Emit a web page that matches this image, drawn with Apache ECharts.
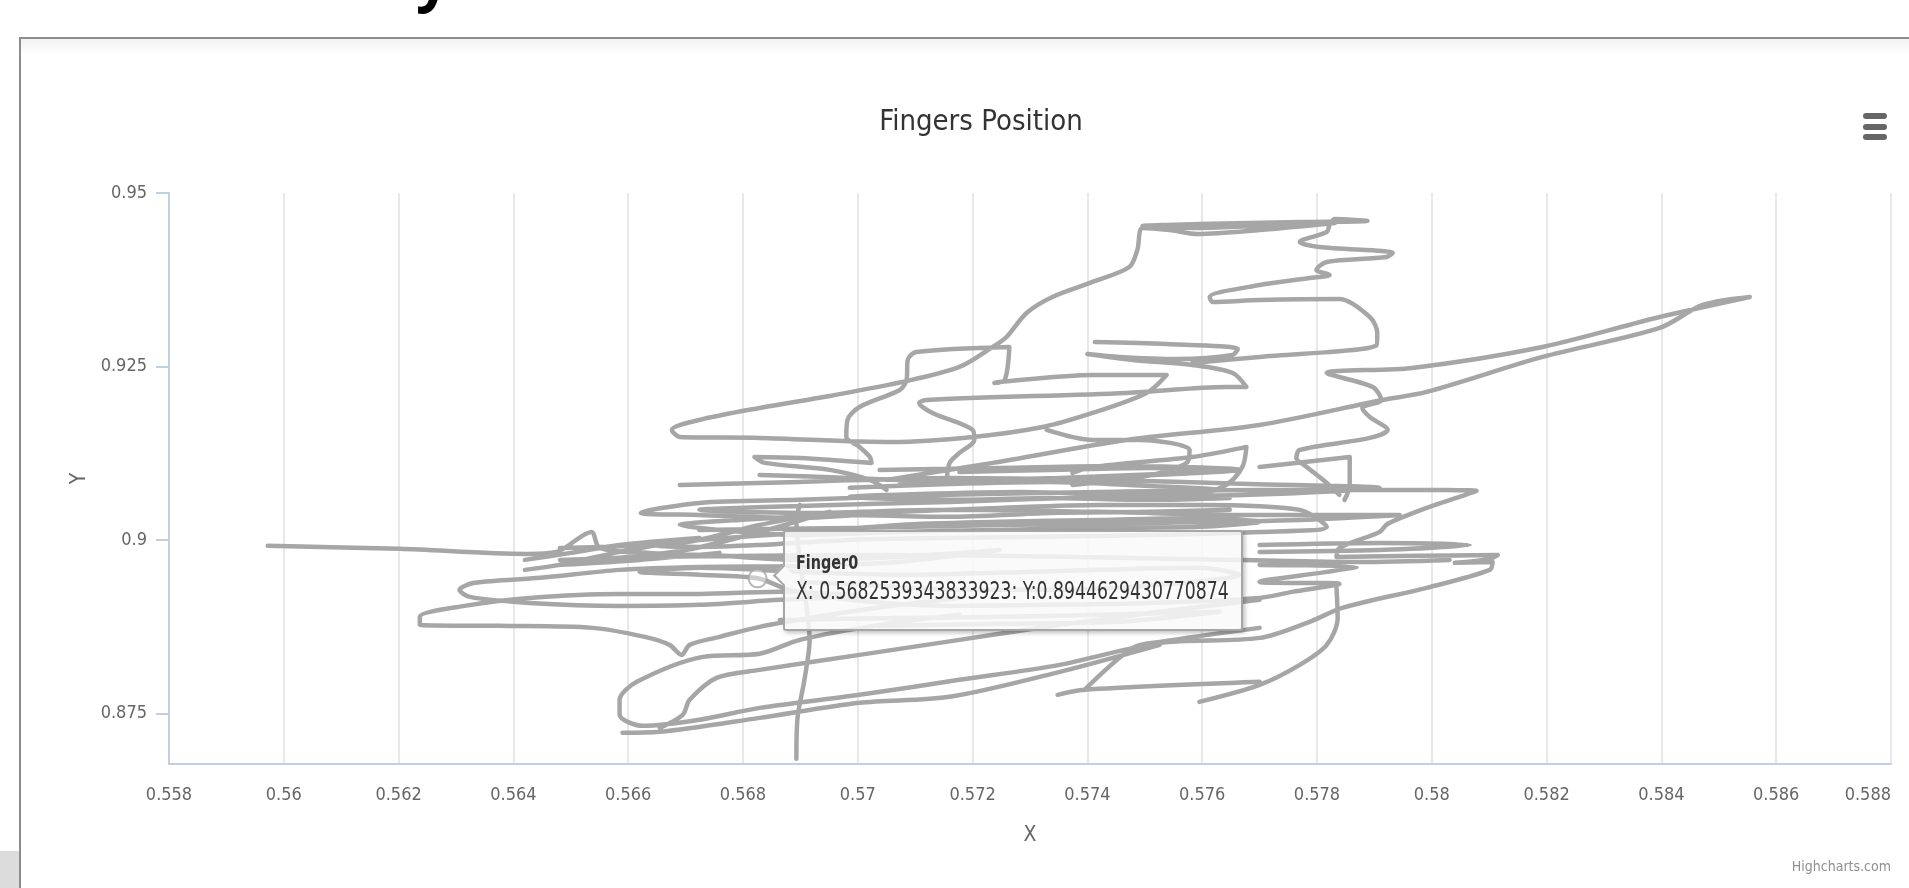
<!DOCTYPE html>
<html>
<head>
<meta charset="utf-8">
<script src="https://cdn.jsdelivr.net/npm/echarts@6/dist/echarts.min.js"></script>
<style>
html,body{margin:0;padding:0;background:#fff;width:1909px;height:888px;overflow:hidden;}
#heading{position:absolute;left:416px;top:-54px;font:bold 60px 'Open Sans',sans-serif;color:#000;line-height:60px;}
#frame{position:absolute;left:19px;top:37px;width:2000px;height:1000px;border-top:2px solid #8c8c8c;border-left:2px solid #8c8c8c;}
#band{position:absolute;left:21px;top:39px;width:1888px;height:14px;background:linear-gradient(#f2f2f2,#fdfdfd);}
#corner{position:absolute;left:0;top:851px;width:19px;height:37px;background:#dcdcdc;}
#chart{position:absolute;left:0;top:0;width:1909px;height:888px;}
</style>
</head>
<body>
<div id="heading">y</div>
<div id="frame"></div>
<div id="band"></div>
<div id="corner"></div>
<div id="chart"></div>
<script>
// ---------- data ----------
const chartTitle = 'Fingers Position';
const seriesName = 'Finger0';
const xTickMin = 0.558, xTickMax = 0.588, xTickStep = 0.002;
const yAxisMin = 0.8677, yAxisMax = 0.95;
const yTicks = [0.875, 0.9, 0.925, 0.95];
const hoverX = 0.5682539343833923, hoverY = 0.8944629430770874;

const leftLoops = [[0.55972,0.89914],[0.56202,0.89871],[0.56423,0.89798],[0.56475,0.89827],[0.56536,0.90115],[0.56550,0.89885],[0.56637,0.89813],[0.56759,0.89770],[0.56899,0.89712],[0.57038,0.89741],[0.57177,0.89813],[0.57247,0.89856],[0.57073,0.89683],[0.56899,0.89625],[0.56724,0.89611],[0.56585,0.89568],[0.56446,0.89453],[0.56332,0.89381],[0.56306,0.89280],[0.56324,0.89179],[0.56428,0.89092],[0.56585,0.89049],[0.56724,0.89064],[0.56864,0.89136],[0.57003,0.89193],[0.56864,0.89251],[0.56724,0.89222],[0.56585,0.89222],[0.56428,0.89164],[0.56315,0.89049],[0.56237,0.88891],[0.56237,0.88775],[0.56376,0.88761],[0.56538,0.88732],[0.56629,0.88602],[0.56672,0.88487],[0.56693,0.88343],[0.56707,0.88487],[0.56759,0.88602],[0.56829,0.88747],[0.56951,0.88920],[0.57073,0.89064],[0.57177,0.89164]];

const bottomLoop = [[0.57177,0.88920],[0.57038,0.88775],[0.56899,0.88559],[0.56829,0.88358],[0.56730,0.88314],[0.56615,0.87954],[0.56585,0.87695],[0.56585,0.87479],[0.56625,0.87320],[0.56724,0.87407],[0.56829,0.87579],[0.57003,0.87767],[0.57177,0.87983],[0.57352,0.88199],[0.57526,0.88516],[0.57700,0.88588],[0.57787,0.88819],[0.57844,0.89021],[0.57991,0.89309],[0.58101,0.89568],[0.58106,0.89683],[0.58040,0.89669],[0.58101,0.89726],[0.58115,0.89784],[0.57979,0.89770],[0.57834,0.89755],[0.57839,0.89885],[0.57909,0.90115],[0.57923,0.90231],[0.57991,0.90461],[0.58048,0.90620],[0.58078,0.90706],[0.57944,0.90721],[0.57700,0.90721],[0.57421,0.90692],[0.57160,0.90649],[0.56899,0.90577],[0.56724,0.90533],[0.56622,0.90389],[0.56724,0.90360],[0.56899,0.90317],[0.57073,0.90404],[0.57247,0.90461],[0.57421,0.90504],[0.57595,0.90504],[0.57770,0.90433],[0.57817,0.90188],[0.57700,0.90115],[0.57508,0.90072],[0.57334,0.90044],[0.57160,0.90029],[0.56986,0.90000],[0.56829,0.89928],[0.56724,0.89899],[0.56637,0.89928],[0.56724,0.90000],[0.56899,0.90101],[0.57073,0.90216],[0.57247,0.90260],[0.57421,0.90288],[0.57595,0.90317],[0.57700,0.90260],[0.57595,0.90188],[0.57421,0.90173],[0.57247,0.90144],[0.57073,0.90115],[0.56899,0.90072],[0.56759,0.90144],[0.56690,0.90216],[0.56794,0.90288],[0.56986,0.90360],[0.57160,0.90332],[0.57334,0.90389],[0.57508,0.90404],[0.57648,0.90433]];

const hoverBand = [[0.57700,0.89640],[0.57869,0.89611],[0.57817,0.89539],[0.57700,0.89395],[0.57839,0.89366],[0.57757,0.89251],[0.57700,0.89164],[0.57508,0.89092],[0.57334,0.89064],[0.57160,0.89049],[0.56986,0.89136],[0.56881,0.89280],[hoverX,hoverY],[0.56724,0.89496],[0.56620,0.89539],[0.56724,0.89597],[0.56899,0.89539],[0.57073,0.89496],[0.57247,0.89525],[0.57421,0.89568],[0.57595,0.89597],[0.57665,0.89496],[0.57526,0.89352],[0.57352,0.89280],[0.57177,0.89280],[0.57003,0.89352],[0.56899,0.89395]];
const underTip = [[0.56864,0.88847],[0.57073,0.88876],[0.57247,0.88891],[0.57421,0.88920],[0.57630,0.88963],[0.57456,0.88819],[0.57247,0.88790],[0.57038,0.88761]];

const lowerDiagonal = [[0.56655,0.87291],[0.56695,0.87479],[0.56707,0.87695],[0.56754,0.88012],[0.56829,0.88127],[0.57003,0.88343],[0.57177,0.88559],[0.57352,0.88775],[0.57526,0.88963],[0.57700,0.89136]];
const bottomLine = [[0.56590,0.87219],[0.56655,0.87234],[0.56829,0.87435],[0.57003,0.87652],[0.57160,0.87738],[0.57352,0.88098],[0.57526,0.88487]];
const zBottom = [[0.57348,0.87767],[0.57395,0.87839],[0.57700,0.87954]];
const zDiagonal = [[0.57395,0.87839],[0.57479,0.88444],[0.57526,0.88530],[0.57700,0.88732]];
const rightCurve = [[0.57834,0.89309],[0.57836,0.88876],[0.57817,0.88487],[0.57770,0.88199],[0.57700,0.87911],[0.57595,0.87666]];
const verticalStroke = [[0.56893,0.86845],[0.56895,0.87435],[0.56907,0.87983],[0.56916,0.88559],[0.56909,0.89136],[0.56899,0.89712],[0.56893,0.90288],[0.56899,0.90504]];

const topOutline = [[0.57583,0.92551],[0.57700,0.92637],[0.57904,0.92810],[0.57905,0.92983],[0.57892,0.93213],[0.57839,0.93473],[0.57700,0.93458],[0.57618,0.93430],[0.57613,0.93502],[0.57700,0.93674],[0.57787,0.93775],[0.57822,0.93819],[0.57799,0.93891],[0.57817,0.94006],[0.57921,0.94078],[0.57932,0.94136],[0.57804,0.94222],[0.57770,0.94294],[0.57817,0.94438],[0.57822,0.94539],[0.57831,0.94625],[0.57888,0.94597],[0.57770,0.94582],[0.57595,0.94553],[0.57496,0.94525],[0.57595,0.94496],[0.57700,0.94525],[0.57831,0.94568],[0.57700,0.94467],[0.57592,0.94409],[0.57543,0.94467],[0.57496,0.94496],[0.57487,0.94179],[0.57473,0.93934],[0.57409,0.93718],[0.57339,0.93502],[0.57294,0.93271],[0.57259,0.92925],[0.57235,0.92781],[0.57177,0.92493],[0.57078,0.92277],[0.56951,0.92075],[0.56829,0.91902],[0.56724,0.91729],[0.56676,0.91585],[0.56690,0.91484],[0.56829,0.91470],[0.57061,0.91412],[0.57200,0.91484],[0.57322,0.91628],[0.57409,0.91830],[0.57503,0.92118],[0.57538,0.92378],[0.57409,0.92378],[0.57247,0.92277],[0.57238,0.92263],[0.57256,0.92306],[0.57264,0.92781],[0.57102,0.92709],[0.57087,0.92594],[0.57085,0.92306],[0.57073,0.92161],[0.57003,0.91916],[0.56982,0.91729],[0.56980,0.91484],[0.57003,0.91340],[0.57021,0.91196],[0.57024,0.91110],[0.56899,0.91182],[0.56820,0.91196],[0.56838,0.91110],[0.56951,0.91009],[0.57021,0.90865],[0.57050,0.90721]];

const upperZigzag = [[0.57413,0.92853],[0.57538,0.92824],[0.57662,0.92752],[0.57653,0.92666],[0.57555,0.92608],[0.57456,0.92637],[0.57400,0.92680],[0.57479,0.92594],[0.57583,0.92522],[0.57653,0.92406],[0.57677,0.92205],[0.57642,0.92205],[0.57468,0.92118],[0.57120,0.92017],[0.57107,0.91974],[0.57130,0.91830],[0.57200,0.91585],[0.57203,0.91441],[0.57177,0.91254],[0.57160,0.91110],[0.57155,0.90865]];

const rightSpike = [[0.57050,0.90865],[0.57235,0.91110],[0.57468,0.91441],[0.57700,0.91657],[0.57914,0.92017],[0.57991,0.92133],[0.58193,0.92637],[0.58397,0.93055],[0.58472,0.93386],[0.58554,0.93502],[0.58397,0.93213],[0.58193,0.92781],[0.57966,0.92479],[0.57817,0.92406],[0.57897,0.92205],[0.57912,0.92017],[0.57879,0.91902],[0.57892,0.91772],[0.57923,0.91585],[0.57892,0.91470],[0.57770,0.91297],[0.57764,0.91182],[0.57782,0.91052],[0.57817,0.90822],[0.57839,0.90649]];

const rightTick = [[0.57700,0.91052],[0.57857,0.91196],[0.57857,0.90793],[0.57848,0.90577]];
const midLoop = [[0.57329,0.91585],[0.57409,0.91441],[0.57491,0.91441],[0.57578,0.91297],[0.57573,0.91110],[0.57496,0.90908],[0.57374,0.90793]];
const midLoop2 = [[0.57374,0.90966],[0.57409,0.91052],[0.57583,0.91196],[0.57670,0.91326],[0.57677,0.91340],[0.57670,0.91052],[0.57642,0.90793],[0.57595,0.90649]];
const clusterTop = [[0.56986,0.90750],[0.57160,0.90807],[0.57334,0.90836],[0.57508,0.90778],[0.57630,0.90721],[0.57456,0.90663],[0.57282,0.90692],[0.57108,0.90663],[0.56986,0.90620],[0.57160,0.90577],[0.57334,0.90605],[0.57508,0.90577],[0.57648,0.90605]];
const clusterLeft = [[0.56481,0.89885],[0.56702,0.89971],[0.56829,0.90216],[0.56951,0.90404],[0.56829,0.90115],[0.56702,0.89856],[0.56550,0.89712],[0.56481,0.89640],[0.56620,0.89712],[0.56759,0.89813]];
const clusterUpper = [[0.56829,0.90937],[0.56986,0.90894],[0.57177,0.90836],[0.57352,0.90894],[0.57526,0.90951],[0.57648,0.91009],[0.57508,0.91038],[0.57334,0.91009],[0.57177,0.90980]];
const clusterMid = [[0.56690,0.90793],[0.56899,0.90836],[0.57160,0.90894],[0.57421,0.90865],[0.57683,0.90807],[0.57909,0.90750],[0.57683,0.90649],[0.57421,0.90620],[0.57160,0.90548],[0.56899,0.90490],[0.56724,0.90433],[0.56899,0.90389],[0.57160,0.90433],[0.57421,0.90404],[0.57683,0.90360],[0.57944,0.90360],[0.57770,0.90288],[0.57508,0.90245],[0.57247,0.90216],[0.56986,0.90173],[0.56724,0.90144]];
const clusterHigh = [[0.57038,0.91009],[0.57247,0.91038],[0.57456,0.91066],[0.57665,0.91009],[0.57473,0.90922],[0.57282,0.90879],[0.57073,0.90807]];
const clusterLow = [[0.56481,0.89712],[0.56637,0.89755],[0.56829,0.89770],[0.57038,0.89784],[0.57247,0.89770],[0.57456,0.89741],[0.57665,0.89712],[0.57874,0.89683],[0.58031,0.89712]];
const rightBand = [[0.57700,0.89928],[0.57909,0.89957],[0.58066,0.89928],[0.57909,0.89856],[0.57700,0.89827]];
const leftBand = [[0.56420,0.89712],[0.56500,0.89813],[0.56585,0.89928],[0.56724,0.90029],[0.56585,0.89827],[0.56480,0.89640],[0.56420,0.89568]];

const strokes = [leftLoops, bottomLoop, hoverBand, underTip, lowerDiagonal, bottomLine, zBottom, zDiagonal, rightCurve,
  verticalStroke, topOutline, upperZigzag, rightSpike, rightTick, midLoop, midLoop2, clusterTop, clusterLeft,
  clusterUpper, clusterMid, clusterHigh, clusterLow, rightBand, leftBand];

// ---------- build ----------
const fingerPath = [];
strokes.forEach((s, i) => { if (i) fingerPath.push([null, null]); s.forEach(p => fingerPath.push(p)); });

const FONT = "'DejaVu Sans Condensed','Liberation Sans Narrow','Roboto','Open Sans',sans-serif";
const LINE = '#a6a6a6';
const chart = echarts.init(document.getElementById('chart'), null, {renderer: 'canvas'});
const option = {
  animation: false,
  textStyle: {fontFamily: FONT},
  title: {text: chartTitle, left: 976, top: 103, textAlign: 'center',
    textStyle: {fontFamily: FONT, fontSize: 29, fontWeight: 'normal', color: '#333333'}},
  grid: {left: 169, right: 18, top: 193, bottom: 124, containLabel: false},
  xAxis: {
    type: 'value', min: xTickMin, max: xTickMax, interval: xTickStep,
    name: 'X', nameLocation: 'middle', nameGap: 61,
    nameTextStyle: {fontFamily: FONT, fontSize: 21, color: '#666666'},
    axisLine: {show: true, lineStyle: {color: '#C0D0E0', width: 2}},
    axisTick: {show: false},
    splitLine: {show: true, lineStyle: {color: '#e8e8e8', width: 2}},
    axisLabel: {color: '#666666', fontSize: 18, fontFamily: FONT, margin: 22, alignMaxLabel: 'right',
      formatter: v => String(+(+v).toFixed(3))}
  },
  yAxis: {
    type: 'value', min: yAxisMin, max: yAxisMax,
    name: 'Y', nameLocation: 'middle', nameGap: 74, nameRotate: 90,
    nameTextStyle: {fontFamily: FONT, fontSize: 21, color: '#666666'},
    axisLine: {show: true, lineStyle: {color: '#C0D0E0', width: 2}},
    axisTick: {show: true, length: 13, customValues: yTicks, lineStyle: {color: '#C0D0E0', width: 2}},
    splitLine: {show: false},
    axisLabel: {color: '#666666', fontSize: 18, fontFamily: FONT, margin: 22, customValues: yTicks,
      formatter: v => String(+(+v).toFixed(3))}
  },
  tooltip: {
    trigger: 'item', triggerOn: 'none', alwaysShowContent: true, transitionDuration: 0,
    backgroundColor: 'rgba(249,249,249,0.85)', borderColor: LINE, borderWidth: 2, padding: 0,
    extraCssText: 'box-shadow:2px 2px 4px rgba(0,0,0,0.25);border-radius:3px;',
    position: function (pt) { return [pt[0] + 25, pt[1] - 48]; },
    formatter: function (p) {
      const ff = FONT.replace(/'/g, '&quot;');
      return '<div style="position:relative;width:432px;padding:16px 13px 23px 11px;font-family:' + ff + ';color:#333;">' +
        '<div style="position:absolute;left:-9px;top:36px;width:13px;height:13px;background:rgb(249,249,249);border-left:2px solid ' + LINE + ';border-bottom:2px solid ' + LINE + ';transform:rotate(45deg);"></div>' +
        '<div style="font-size:20px;font-weight:bold;line-height:28px;white-space:nowrap;transform:scaleX(0.8);transform-origin:0 0;">' + p.seriesName + '</div>' +
        '<div style="font-size:24px;line-height:30px;white-space:nowrap;transform:scaleX(0.8);transform-origin:0 0;">X: ' + p.value[0] + ': Y:' + p.value[1] + '</div></div>';
    }
  },
  graphic: [
    {type: 'rect', shape: {x: 1863, y: 113, width: 24, height: 6, r: 3}, style: {fill: '#666666'}},
    {type: 'rect', shape: {x: 1863, y: 124, width: 24, height: 6, r: 3}, style: {fill: '#666666'}},
    {type: 'rect', shape: {x: 1863, y: 134, width: 24, height: 6, r: 3}, style: {fill: '#666666'}},
    {type: 'text', right: 18, top: 860, style: {text: 'Highcharts.com', font: '14px ' + FONT, fill: '#909090'}}
  ],
  series: [
    {type: 'line', name: seriesName, data: fingerPath, showSymbol: false, symbol: 'none', smooth: 0.3,
      connectNulls: false, silent: true, tooltip: {show: false}, emphasis: {disabled: true},
      lineStyle: {color: LINE, width: 4.5, cap: 'round', join: 'round'}},
    {type: 'scatter', name: seriesName, data: [[hoverX, hoverY]], symbolSize: 18, z: 5,
      emphasis: {disabled: true},
      itemStyle: {color: 'rgba(255,255,255,0.55)', borderColor: LINE, borderWidth: 2}}
  ]
};
chart.setOption(option);
function tip() { chart.dispatchAction({type: 'showTip', seriesIndex: 1, dataIndex: 0}); }
tip();
setTimeout(tip, 50);
</script>
</body>
</html>
